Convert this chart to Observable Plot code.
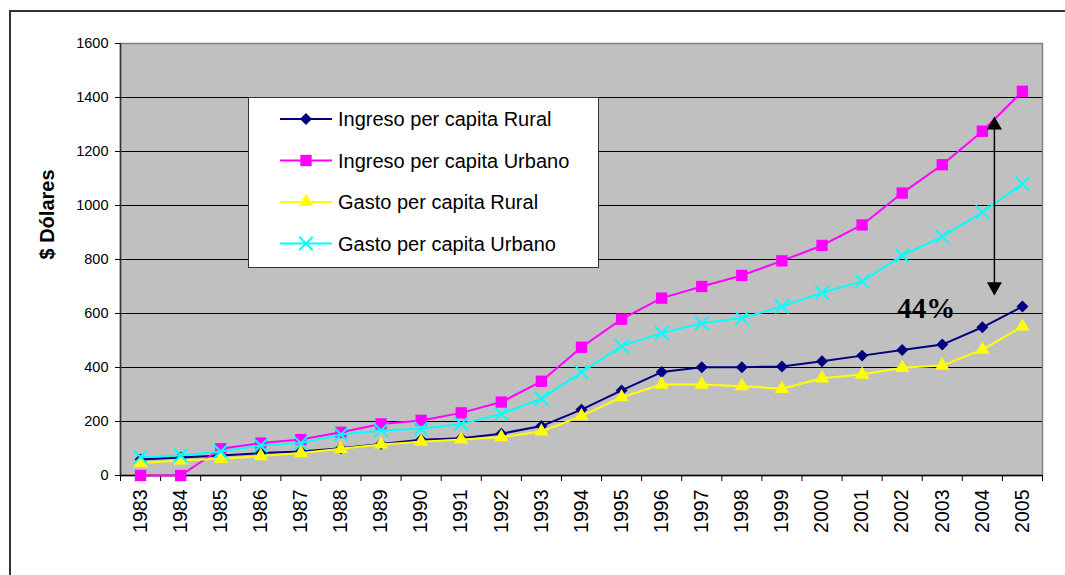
<!DOCTYPE html>
<html><head><meta charset="utf-8">
<script src="https://cdn.jsdelivr.net/npm/d3@7"></script>
<script src="https://cdn.jsdelivr.net/npm/@observablehq/plot@0.6"></script>
<style>
html,body{margin:0;padding:0;background:#fff;overflow:hidden;width:1065px;height:575px;}
#wrap{position:relative;width:1065px;height:575px;overflow:hidden;}
#border{position:absolute;left:9px;top:10px;width:1100px;height:700px;border:2px solid #333;box-sizing:border-box;}
#chart{position:absolute;left:0;top:0;}
#legend{position:absolute;left:248px;top:97px;width:351px;height:171px;background:#fff;border:1px solid #333;box-sizing:border-box;}
.serif-annot{font-family:"Liberation Serif","Times New Roman","DejaVu Serif",serif !important;}
</style></head>
<body><div id="wrap"><div id="border"></div><div id="chart"></div><div id="legend"></div></div>
<script>
// ---- data ----
const years = [1983,1984,1985,1986,1987,1988,1989,1990,1991,1992,1993,1994,1995,1996,1997,1998,1999,2000,2001,2002,2003,2004,2005];
const ingresoRural  = [59,67,74,83,89,101,117,132,138,155,183,244,315,383,401,401,404,423,444,465,485,549,626];
const ingresoUrbano = [0,0,99,120,133,160,191,204,232,272,349,475,579,657,700,741,795,852,928,1046,1151,1275,1423];
const gastoRural    = [46,56,62,72,83,99,115,125,133,142,163,220,290,337,337,331,321,360,374,399,407,466,552];
const gastoUrbano   = [68,74,89,111,120,152,167,173,191,228,284,383,479,528,564,583,626,677,719,815,885,975,1080];
const seriesNames = ["Ingreso per capita Rural","Ingreso per capita Urbano","Gasto per capita Rural","Gasto per capita Urbano"];
const yTicks = [0,200,400,600,800,1000,1200,1400,1600];
const yLabel = "$ Dólares";
const annotText = "44%";
const annotTextPos = [2002.6, 618];
const arrowX = 2004.3;
const arrowEnds = [1330, 667];

const seriesValues = [ingresoRural, ingresoUrbano, gastoRural, gastoUrbano];
const seriesStyle = [
  {color:"#000080", symbol:"diamond2", r:5.4, stroke:false},
  {color:"#FF00FF", symbol:"square", r:6.4, stroke:false},
  {color:"#FFFF00", symbol:"triangle", r:5.3, stroke:false},
  {color:"#00FFFF", symbol:"times", r:6.2, stroke:true}
];
const bounds = years.map(y => y - 0.5).concat([years[years.length-1] + 0.5]);

const font = "Liberation Sans, Arial, sans-serif";
const marks = [
  Plot.frame({fill:"#C0C0C0", stroke:"#808080", strokeWidth:1.5}),
  Plot.ruleY(yTicks.filter(d => d > 0 && d < 1600), {stroke:"#000", strokeWidth:1}),
  Plot.ruleX([bounds[0]], {stroke:"#333", strokeWidth:1.5}),
  Plot.ruleY([0], {stroke:"#000", strokeWidth:1.5}),
  Plot.axisY({ticks: yTicks, tickSize:5, tickPadding:7, fontSize:14.5, label:null, fontFamily:font, fill:"#000", tickFormat: d => String(d)}),
  Plot.axisX({ticks: years, tickSize:0, tickPadding:14, tickRotate:-90, fontSize:19.5, label:null, fontFamily:font, fill:"#000", tickFormat: d => String(d)}),
  Plot.axisX({ticks: bounds, tickSize:6, label:null, tickFormat: () => "", stroke:"#000"}),
  Plot.text([yLabel], {frameAnchor:"left", dx:-73, rotate:-90, fontWeight:"bold", fontSize:20, fontFamily:font, fill:"#000"})
];
seriesValues.forEach((vals, i) => {
  const rows = years.map((y, j) => ({year:y, value:vals[j]}));
  const st = seriesStyle[i];
  marks.push(Plot.line(rows, {x:"year", y:"value", stroke:st.color, strokeWidth:2}));
  if (st.stroke) {
    marks.push(Plot.dot(rows, {x:"year", y:"value", symbol:st.symbol, r:st.r, stroke:st.color, strokeWidth:2}));
  } else {
    marks.push(Plot.dot(rows, {x:"year", y:"value", symbol:st.symbol, r:st.r, fill:st.color, stroke:"none"}));
  }
});
marks.push(
  Plot.ruleX([arrowX], {y1: arrowEnds[0], y2: arrowEnds[1], stroke:"#000", strokeWidth:1.5, insetTop:8, insetBottom:8}),
  Plot.dot([{x:arrowX, y:arrowEnds[0]}], {x:"x", y:"y", symbol:"triangle", r:5.6, fill:"#000", stroke:"none", dy:8.7}),
  Plot.dot([{x:arrowX, y:arrowEnds[1]}], {x:"x", y:"y", symbol:"triangle", r:5.6, fill:"#000", stroke:"none", dy:-8.7, rotate:180}),
  Plot.text([annotText], {x:() => annotTextPos[0], y:() => annotTextPos[1], fontWeight:"bold", fontSize:29, fill:"#000", textAnchor:"middle", lineAnchor:"middle", className:"serif-annot"})
);

const chart = Plot.plot({
  width:1065, height:565,
  marginLeft:120, marginRight:23, marginTop:43, marginBottom:90,
  x:{type:"linear", domain:[bounds[0], bounds[bounds.length-1]], axis:null},
  y:{domain:[0,1600], axis:null},
  style:{background:"transparent", fontFamily:font, overflow:"visible"},
  marks
});
document.getElementById("chart").appendChild(chart);
d3.select(chart).selectAll("text").filter(function(){ return this.textContent === annotText; })
  .attr("font-family", "Liberation Serif, Times New Roman, serif")
  .style("font-family", "'Liberation Serif', 'Times New Roman', serif");

// ---- legend ----
const lg = d3.select("#legend").append("svg").attr("width",349).attr("height",169).style("position","absolute").style("left","0").style("top","0");
const rowY = [21, 62.5, 104, 145.5];
const symMap = {diamond2: d3.symbolDiamond2, square: d3.symbolSquare, triangle: d3.symbolTriangle, times: d3.symbolTimes};
seriesNames.forEach((name, i) => {
  const st = seriesStyle[i];
  const g = lg.append("g").attr("transform", `translate(0,${rowY[i]})`);
  g.append("line").attr("x1",31).attr("x2",83).attr("y1",0).attr("y2",0).attr("stroke",st.color).attr("stroke-width",2);
  const path = d3.symbol(symMap[st.symbol], Math.PI*st.r*st.r)();
  const p = g.append("path").attr("d", path).attr("transform","translate(57,0)");
  if (st.stroke) p.attr("fill","none").attr("stroke",st.color).attr("stroke-width",2);
  else p.attr("fill",st.color);
  g.append("text").attr("x",89).attr("y",7.2).attr("font-family",font).attr("font-size",20).attr("fill","#000").text(name);
});
</script>
</body></html>
